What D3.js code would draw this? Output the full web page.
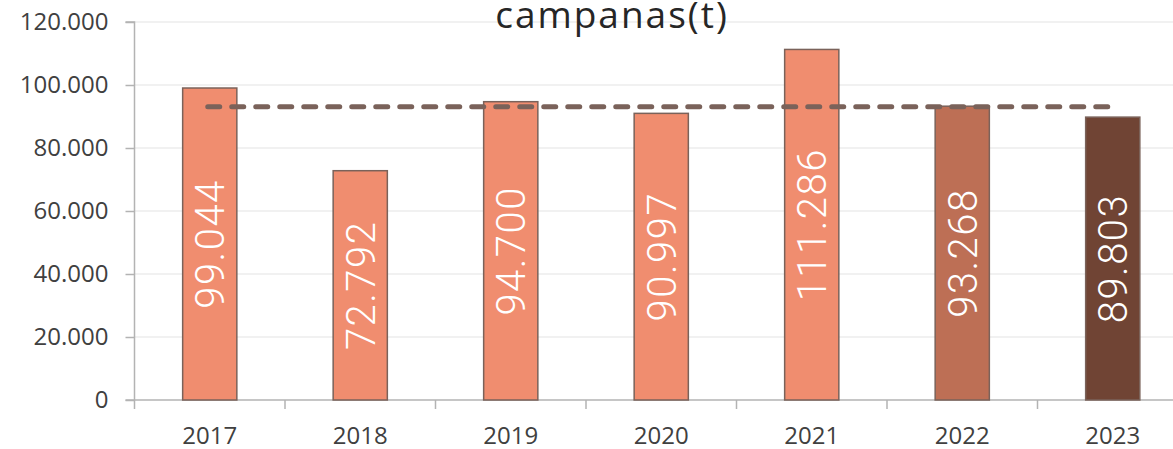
<!DOCTYPE html>
<html><head><meta charset="utf-8">
<script src="https://cdn.jsdelivr.net/npm/d3@7"></script>
<style>html,body{margin:0;padding:0;background:#fff;overflow:hidden}</style>
</head><body>
<svg id="c" width="1173" height="449"></svg>
<script>
const years = ["2017","2018","2019","2020","2021","2022","2023"];
const values = [99044, 72792, 94700, 90997, 111286, 93268, 89803];
const barColors = ["#F08D6F","#F08D6F","#F08D6F","#F08D6F","#F08D6F","#BD6F55","#704434"];
const yTicks = [0,20000,40000,60000,80000,100000,120000];
const title = "campanas(t)";

const svg = d3.select("#c");
const x0 = 134.5, band = 150.5;
const x = d3.scaleBand().domain(years).range([x0, x0 + band*years.length]).paddingInner(0.64).paddingOuter(0.32);
const y = d3.scaleLinear().domain([0,120000]).range([400,22]);
const fmt = v => d3.format(",.0f")(v).replace(/,/g,".");

// gridlines
svg.append("g").selectAll("line").data(yTicks.slice(1)).join("line")
  .attr("x1",x0).attr("x2",1173).attr("y1",d=>y(d)).attr("y2",d=>y(d))
  .attr("stroke","#ececec").attr("stroke-width",1.5);

// title
svg.append("text").attr("x",612).attr("y",28).attr("text-anchor","middle")
  .attr("font-family","Open Sans, sans-serif").attr("font-size",37).attr("letter-spacing",2)
  .attr("fill","#262626").text(title);

// y axis
const ya = svg.append("g").attr("transform",`translate(${x0},0)`)
  .call(d3.axisLeft(y).tickValues(yTicks).tickSize(9).tickPadding(17).tickFormat(fmt));
ya.select(".domain").attr("stroke","#b3b3b3").attr("stroke-width",1.5).attr("d",`M-9,${y(120000)}H0V${y(0)}`);
ya.selectAll(".tick line").attr("stroke","#b3b3b3").attr("stroke-width",1.5);
ya.selectAll(".tick text").attr("font-family","Open Sans, sans-serif").attr("font-size",24).attr("fill","#404040");

// x axis
const xTickPos = d3.range(years.length+1).map(i => x0 + i*band);
const xa = svg.append("g");
xa.append("line").attr("x1",x0-9).attr("x2",1173).attr("y1",400).attr("y2",400).attr("stroke","#b3b3b3").attr("stroke-width",1.5);
xa.selectAll("line.t").data(xTickPos).join("line").attr("class","t")
  .attr("x1",d=>d).attr("x2",d=>d).attr("y1",400).attr("y2",409).attr("stroke","#b3b3b3").attr("stroke-width",1.5);
xa.selectAll("text").data(years).join("text")
  .attr("x",d=>x(d)+x.bandwidth()/2).attr("y",444).attr("text-anchor","middle")
  .attr("font-family","Open Sans, sans-serif").attr("font-size",24).attr("fill","#404040").text(d=>d);

// bars
svg.append("g").selectAll("rect").data(years).join("rect")
  .attr("x",d=>x(d)).attr("width",x.bandwidth())
  .attr("y",(d,i)=>y(values[i])).attr("height",(d,i)=>y(0)-y(values[i]))
  .attr("fill",(d,i)=>barColors[i]).attr("stroke","#7a625a").attr("stroke-width",1.5);

// labels
svg.append("g").selectAll("text").data(years).join("text")
  .attr("transform",(d,i)=>`translate(${x(d)+x.bandwidth()/2},${(y(values[i])+y(0))/2}) rotate(-90)`)
  .attr("text-anchor","middle").attr("dy","0.36em")
  .attr("font-family","Roboto, sans-serif").attr("font-weight",300).attr("font-size",40).attr("letter-spacing",1.5)
  .attr("fill","#ffffff")
  .text((d,i)=>fmt(values[i]));

// average dashed line
const avg = d3.mean(values);
svg.append("line")
  .attr("x1",x(years[0])+x.bandwidth()/2-2).attr("x2",x(years[years.length-1])+x.bandwidth()/2)
  .attr("y1",y(avg)).attr("y2",y(avg))
  .attr("stroke","#7a625a").attr("stroke-width",5).attr("stroke-linecap","round").attr("stroke-dasharray","12 12");
</script>
</body></html>
